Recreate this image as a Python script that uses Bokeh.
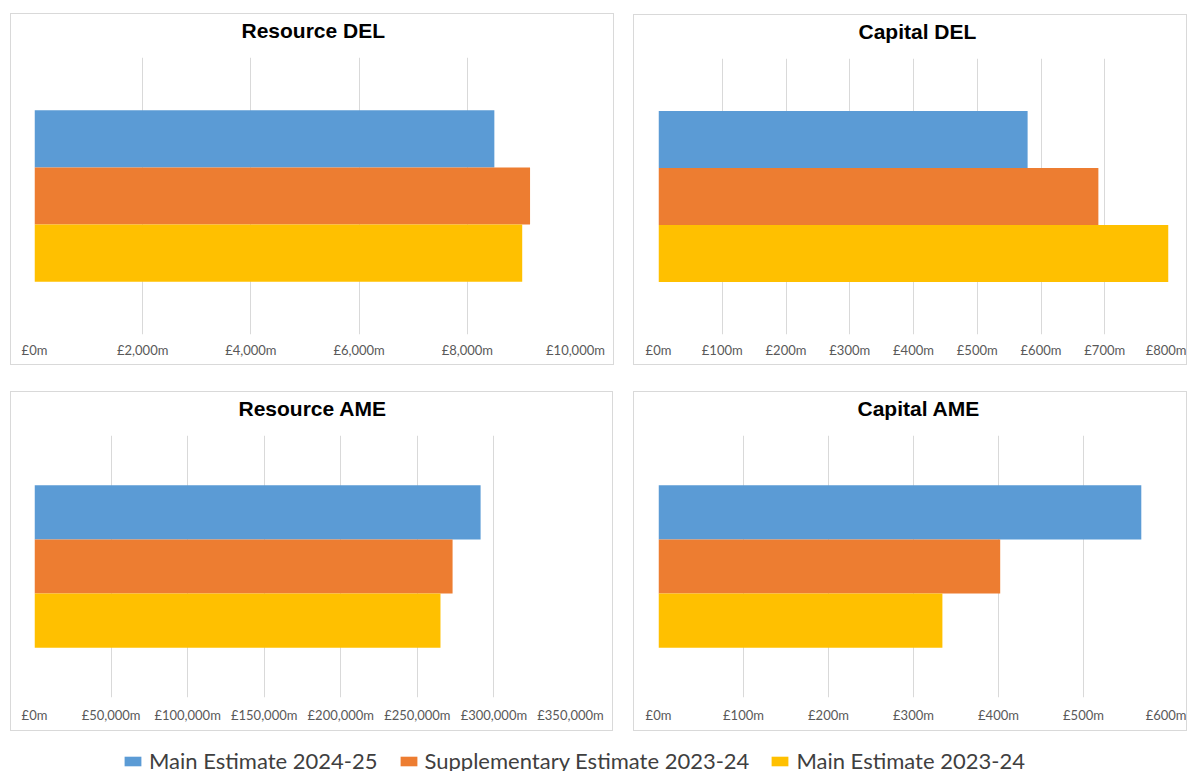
from bokeh.plotting import figure
from bokeh.models import Range1d, FactorRange, FixedTicker, Legend, LegendItem, ColumnDataSource, Title
from bokeh.layouts import column, row
from bokeh.embed import file_html
from bokeh.resources import INLINE

# ---- data ----
series = ["Main Estimate 2024-25", "Supplementary Estimate 2023-24", "Main Estimate 2023-24"]
colors = ["#5B9BD5", "#ED7D31", "#FFC000"]

resource_del = [8500, 9160, 9015]
capital_del = [579, 690, 800]
resource_ame = [291300, 273000, 265100]
capital_ame = [568, 402, 334]

resource_del_ticks = [0, 2000, 4000, 6000, 8000, 10000]
capital_del_ticks = [0, 100, 200, 300, 400, 500, 600, 700, 800]
resource_ame_ticks = [0, 50000, 100000, 150000, 200000, 250000, 300000, 350000]
capital_ame_ticks = [0, 100, 200, 300, 400, 500, 600]

titles = ["Resource DEL", "Capital DEL", "Resource AME", "Capital AME"]

TICK_FONT = "Lato"
TITLE_FONT = "Liberation Sans"


def panel(title, values, ticks, width, height, borders, margin, title_offset, label_standoff):
    left, right, top, bottom = borders
    src = ColumnDataSource(dict(series=series, value=values, color=colors))
    p = figure(width=width, height=height, output_backend="svg", toolbar_location=None,
               y_range=FactorRange(factors=list(reversed(series)), range_padding=0.613),
               x_range=Range1d(0, ticks[-1]),
               min_border_left=left, min_border_right=right,
               min_border_top=top, min_border_bottom=bottom)
    p.hbar(y="series", left=0, right="value", height=1.0, fill_color="color",
           line_color=None, source=src)
    # spacer between the frame and the chart title
    p.add_layout(Title(text=" ", text_font_size="1px", standoff=7), "above")
    p.title.text = title
    p.title.align = "left"
    p.title.offset = title_offset
    p.title.vertical_align = "top"
    p.title.text_font = TITLE_FONT
    p.title.text_font_style = "bold"
    p.title.text_font_size = "21px"
    p.title.text_color = "#000000"
    p.title.standoff = 8
    p.yaxis.visible = False
    p.ygrid.visible = False
    p.xgrid.grid_line_color = "#D9D9D9"
    p.xaxis.ticker = FixedTicker(ticks=ticks)
    p.xaxis.major_label_overrides = {t: f"£{t:,}m" for t in ticks}
    p.xaxis.axis_line_color = None
    p.xaxis.major_tick_line_color = None
    p.xaxis.minor_tick_line_color = None
    p.xaxis.major_label_text_font = TICK_FONT
    p.xaxis.major_label_text_font_size = "13px"
    p.xaxis.major_label_text_color = "#595959"
    p.xaxis.major_label_standoff = label_standoff
    p.outline_line_color = None
    p.background_fill_color = "white"
    p.border_fill_color = "white"
    p.styles = {"border": "1px solid #D9D9D9", "box-sizing": "border-box"}
    p.margin = margin
    return p


p1 = panel(titles[0], resource_del, resource_del_ticks, 604, 352, (23, 40, 38, 32), (13, 0, 0, 10), 207, 1)
p2 = panel(titles[1], capital_del, capital_del_ticks, 554, 351, (24, 20, 38, 32), (14, 0, 0, 19), 200, 1)
p3 = panel(titles[2], resource_ame, resource_ame_ticks, 603, 340, (23, 44, 38, 35), (26, 0, 0, 10), 204, 3)
p4 = panel(titles[3], capital_ame, capital_ame_ticks, 554, 340, (24, 20, 38, 35), (26, 0, 0, 20), 199, 3)

# ---- legend strip ----
lp = figure(width=1187, height=30, output_backend="svg", toolbar_location=None,
            x_range=Range1d(0, 1), y_range=Range1d(0, 1),
            min_border_left=0, min_border_right=0, min_border_top=0, min_border_bottom=0)
lp.axis.visible = False
lp.grid.visible = False
lp.outline_line_color = None
items = []
for s, c in zip(series, colors):
    r = lp.hbar(y=[0.5], left=[0], right=[0], height=[0], fill_color=c, line_color=None)
    items.append(LegendItem(label=s, renderers=[r]))
leg = Legend(items=items, orientation="horizontal", location=(122, -3),
             glyph_width=21, glyph_height=12, label_standoff=6, spacing=20,
             padding=0, margin=0, border_line_color=None, background_fill_alpha=0,
             label_text_font=TICK_FONT, label_text_font_size="22px",
             label_text_color="#3F3F3F")
lp.add_layout(leg, "center")
lp.margin = (10, 0, 0, 0)

layout = column(row(p1, p2), row(p3, p4), lp)
open("out.html", "w").write(file_html(layout, INLINE))
